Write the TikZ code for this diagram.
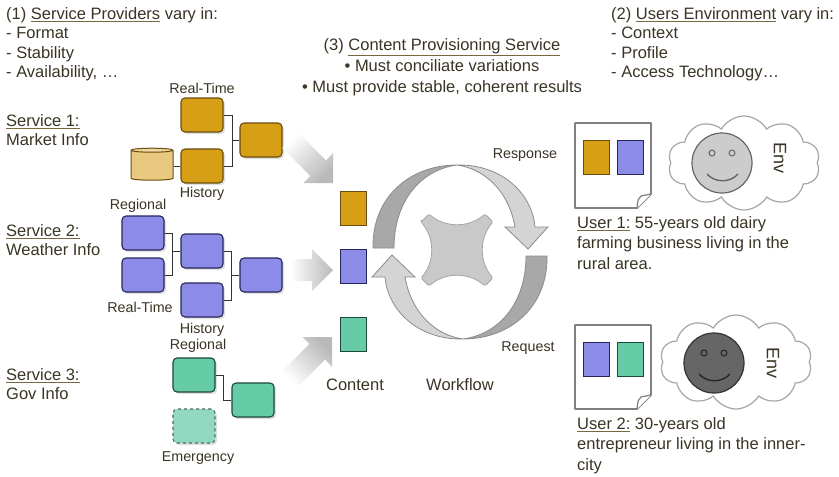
\documentclass[tikz,border=0pt]{standalone}
\usepackage{fontspec}
\setmainfont{Liberation Sans}
\usetikzlibrary{calc,shapes.geometric,shapes.symbols,shadows}

\definecolor{txt}{RGB}{58,52,36}
\definecolor{ulcol}{RGB}{120,104,64}
\definecolor{gold}{RGB}{214,159,22}
\definecolor{golddk}{RGB}{105,76,12}
\definecolor{dbtan}{RGB}{233,200,128}
\definecolor{peri}{RGB}{140,140,232}
\definecolor{peridk}{RGB}{38,38,92}
\definecolor{mint}{RGB}{102,204,168}
\definecolor{mintdk}{RGB}{28,72,56}
\definecolor{mintlt}{RGB}{146,216,192}
\definecolor{ribdark}{RGB}{168,168,168}
\definecolor{riblight}{RGB}{212,212,212}
\definecolor{ribline}{RGB}{140,140,140}
\definecolor{arrowgray}{RGB}{185,185,185}

% underlined heading words
\newcommand\ulin[1]{{\color{ulcol}\underline{\color{txt}#1}}}

% grey block arrow fading in from its tail: tail, tip, shading angle
\newcommand\feedarrow[3]{%
  \coordinate (hb) at ($(#2)!21pt!(#1)$);
  \shade[top color=white, bottom color=arrowgray, shading angle=#3]
    ($(#1)!11pt!90:(#2)$) -- ($(hb)!11pt!90:(#2)$) -- ($(hb)!21pt!90:(#2)$) -- (#2)
    -- ($(hb)!21pt!-90:(#2)$) -- ($(hb)!11pt!-90:(#2)$) -- ($(#1)!11pt!-90:(#2)$) -- cycle;
}

\tikzset{
  every node/.style={text=txt},
  body/.style={font=\fontsize{16.5}{19.5}\selectfont},
  tag/.style={font=\fontsize{14.3}{17}\selectfont},
  tile/.style={rounded corners=4pt, minimum width=42pt, minimum height=34pt, line width=1.1pt,
    drop shadow={shadow xshift=2pt, shadow yshift=-2pt, opacity=0.25}},
  goldtile/.style={tile, fill=gold, draw=golddk},
  peritile/.style={tile, fill=peri, draw=peridk},
  minttile/.style={tile, fill=mint, draw=mintdk},
  item/.style={rectangle, minimum width=26pt, minimum height=34pt, line width=1pt},
  link/.style={draw=black!80, line width=1pt},
  page/.style={fill=white, draw=black!50, line width=1.8pt, line join=round},
  env/.style={cloud, cloud puffs=10, cloud puff arc=120, cloud ignores aspect,
    minimum width=152pt, minimum height=94pt, draw=black!35, line width=1.2pt, fill=white},
  face/.style={circle, minimum size=60pt, line width=1.2pt},
  ribbondark/.style={fill=ribdark, draw=ribline, line width=.8pt},
  ribbonlight/.style={fill=riblight, draw=ribline, line width=.8pt},
}

\begin{document}
\begin{tikzpicture}[x=1pt, y=-1pt]
\useasboundingbox[fill=white] (0,0) rectangle (839,477);

% headings
\node[body, anchor=north west, align=left, inner sep=0] (prov) at (6,7)
  {(1) \ulin{Service Providers} vary in:\\- Format\\- Stability\\- Availability, …};
\node[body, anchor=north west, align=left, inner sep=0] (users) at (611,7)
  {(2) \ulin{Users Environment} vary in:\\- Context\\- Profile\\- Access Technology…};
\node[anchor=north, align=center, inner sep=0, font=\fontsize{16.5}{21}\selectfont] (cps) at (442,38)
  {(3) \ulin{Content Provisioning Service}\\• Must conciliate variations\\• Must provide stable, coherent results};

% service 1: market info
\node[body, anchor=north west, align=left, inner sep=0] (svc1) at (6,114) {\ulin{Service 1:}\\Market Info};
\node[goldtile] (mrt) at (202,115) {};
\node[goldtile] (mhist) at (202,166) {};
\node[goldtile] (mout) at (261,140) {};
\node[cylinder, shape border rotate=90, aspect=0.6, minimum width=42pt, minimum height=32pt,
  cylinder uses custom fill, cylinder body fill=dbtan, cylinder end fill=dbtan!75!white,
  draw=golddk, line width=1pt] (mdb) at (152,166) {};
\node[tag] at (202,88) {Real-Time};
\node[tag] at (202,194) {History};
\draw[link] (mrt.east) -- ++(9,0) |- (mout.west);
\draw[link] (mhist.east) -- ++(9,0) |- (mout.west);
\draw[link] (mdb.east) -- (mhist.west);

% service 2: weather info
\node[body, anchor=north west, align=left, inner sep=0] (svc2) at (6,224) {\ulin{Service 2:}\\Weather Info};
\node[peritile] (wreg) at (143,233) {};
\node[peritile] (wrt) at (143,275) {};
\node[peritile] (wmid) at (202,251) {};
\node[peritile] (whist) at (202,300) {};
\node[peritile] (wout) at (261,275) {};
\node[tag] at (138,206) {Regional};
\node[tag] at (140,307) {Real-Time};
\node[tag] at (202,330) {History};
\draw[link] (wreg.east) -- ++(8,0) |- (wmid.west);
\draw[link] (wrt.east) -- ++(8,0) |- (wmid.west);
\draw[link] (wmid.east) -- ++(8,0) |- (wout.west);
\draw[link] (whist.east) -- ++(8,0) |- (wout.west);

% service 3: gov info
\node[body, anchor=north west, align=left, inner sep=0] (svc3) at (6,368) {\ulin{Service 3:}\\Gov Info};
\node[minttile] (greg) at (194,375) {};
\node[minttile] (gout) at (253,400) {};
\node[tile, fill=mintlt, draw=mintdk!80, dashed, drop shadow={opacity=0}] (gemg) at (194,426) {};
\node[tag] at (198,346) {Regional};
\node[tag] at (198,458) {Emergency};
\draw[link] (greg.east) -- ++(8,0) |- (gout.west);

% feeds into the content column
\coordinate (f1t) at (290,140);
\coordinate (f1h) at (333,183);
\coordinate (f2t) at (290,270);
\coordinate (f2h) at (333,270);
\coordinate (f3t) at (290,379);
\coordinate (f3h) at (332,337);
\feedarrow{f1t}{f1h}{45}
\feedarrow{f2t}{f2h}{90}
\feedarrow{f3t}{f3h}{135}

% content items
\node[item, fill=gold, draw=golddk] (c1) at (353,208) {};
\node[item, fill=peri, draw=peridk] (c2) at (353,266) {};
\node[item, fill=mint, draw=mintdk] (c3) at (353,334) {};
\node[body] (content) at (355,385) {Content};

% workflow loop
\coordinate (wf) at (460,252);
\begin{scope}[shift={(wf)}]
  \filldraw[ribbondark] (-87,-4) .. controls (-88,-55) and (-50,-87) .. (-3,-87)
    .. controls (-40,-82) and (-66,-50) .. (-66,-4) -- cycle;
  \filldraw[ribbonlight] (-3,-87) .. controls (40,-88) and (72,-60) .. (75,-25)
    -- (88,-25) -- (68,-3) -- (45,-25) -- (55,-25)
    .. controls (50,-55) and (30,-82) .. (-3,-87) -- cycle;
\end{scope}
\begin{scope}[shift={(wf)}, rotate=180]
  \filldraw[ribbondark] (-87,-4) .. controls (-88,-55) and (-50,-87) .. (-3,-87)
    .. controls (-40,-82) and (-66,-50) .. (-66,-4) -- cycle;
  \filldraw[ribbonlight] (-3,-87) .. controls (40,-88) and (72,-60) .. (75,-25)
    -- (88,-25) -- (68,-3) -- (45,-25) -- (55,-25)
    .. controls (50,-55) and (30,-82) .. (-3,-87) -- cycle;
\end{scope}
\begin{scope}[shift={(wf)}, shift={(-3,-2)}]
  \filldraw[fill=black!21, draw=black!35, line width=.8pt, rounded corners=1.5pt]
    (-36,-28) -- (-28,-36) .. controls (-12,-22) and (12,-22) .. (28,-36) -- (36,-28)
    .. controls (22,-12) and (22,12) .. (36,28) -- (28,36)
    .. controls (12,22) and (-12,22) .. (-28,36) -- (-36,28)
    .. controls (-22,12) and (-22,-12) .. (-36,-28) -- cycle;
\end{scope}
\node[tag] (resp) at (525,155) {Response};
\node[tag] (req) at (528,348) {Request};
\node[body] (workflow) at (460,385) {Workflow};

% user 1
\draw[page] (575,123) -- (651,123) -- (651,194) -- (637,208) -- (575,208) -- cycle;
\draw[draw=black!50, line width=1.2pt, fill=white] (651,194) -- (641,196) .. controls (638,199) .. (637,208);
\node[item, fill=gold, draw=golddk] (u1a) at (596,157) {};
\node[item, fill=peri, draw=peridk] (u1b) at (630,157) {};
\node[env] (env1) at (744,163) {};
\node[face, fill=black!20, draw=black!60] (face1) at (722,163) {};
\draw[black!60, line width=1pt] ($(face1)+(-10,-10)$) circle (3);
\draw[black!60, line width=1pt] ($(face1)+(10,-10)$) circle (3);
\draw[black!60, line width=1.4pt] ($(face1)+(-15,11)$) .. controls ($(face1)+(-7,20)$) and ($(face1)+(8,20)$) .. ($(face1)+(16,11)$);
\node[rotate=-90, font=\fontsize{18}{20}\selectfont] (env1t) at (780,158) {Env};
\node[body, anchor=north west, align=left, inner sep=0, font=\fontsize{16.5}{20.5}\selectfont] (user1) at (577,216)
  {\ulin{User 1:} 55-years old dairy\\farming business living in the\\rural area.};

% user 2
\draw[page] (575,325) -- (651,325) -- (651,395) -- (637,409) -- (575,409) -- cycle;
\draw[draw=black!50, line width=1.2pt, fill=white] (651,395) -- (641,397) .. controls (638,400) .. (637,409);
\node[item, fill=peri, draw=peridk] (u2a) at (596,359) {};
\node[item, fill=mint, draw=mintdk] (u2b) at (630,359) {};
\node[env] (env2) at (736,362) {};
\node[face, fill=black!60, draw=black!80] (face2) at (714,363) {};
\draw[black!85, line width=1pt] ($(face2)+(-10,-10)$) circle (3);
\draw[black!85, line width=1pt] ($(face2)+(10,-10)$) circle (3);
\draw[black!85, line width=1.4pt] ($(face2)+(-15,11)$) .. controls ($(face2)+(-7,20)$) and ($(face2)+(8,20)$) .. ($(face2)+(16,11)$);
\node[rotate=-90, font=\fontsize{18}{20}\selectfont] (env2t) at (773,363) {Env};
\node[body, anchor=north west, align=left, inner sep=0, font=\fontsize{16.5}{20.5}\selectfont] (user2) at (577,417)
  {\ulin{User 2:} 30-years old\\entrepreneur living in the inner-\\city};
\end{tikzpicture}
\end{document}
